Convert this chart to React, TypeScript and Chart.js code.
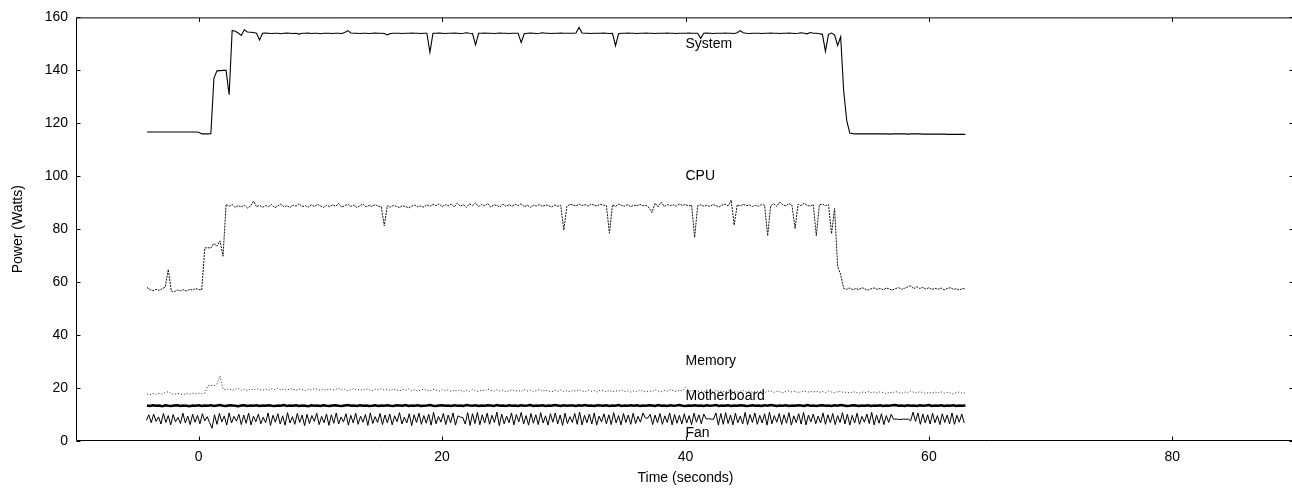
import React, { useEffect, useRef } from 'react';
import { Chart, registerables } from 'chart.js';

Chart.register(...registerables);

const FONT = '"Liberation Sans", Arial, Helvetica, sans-serif';

// Supply-rail power is logged every 0.25 s, starting 4.25 s before the run begins.
const SAMPLE_START_S = -4.25;
const SAMPLE_STEP_S = 0.25;
// The fan sensor is polled faster: every 0.2 s from -4.3 s.
const FAN_START_S = -4.3;
const FAN_STEP_S = 0.2;

const X_TICKS = [0, 20, 40, 60, 80];

const systemWatts = [
  116.7,116.7,116.7,116.7,116.7,116.7,116.7,116.7,116.7,116.7,116.7,116.7,116.7,116.7,116.7,116.7,116.7,116.6,116.0,116.0,
  116.0,116.1,137.0,139.8,139.9,140.0,140.0,130.8,155.1,154.8,154.1,153.2,155.3,154.5,154.4,154.3,154.0,151.5,154.0,154.1,
  154.0,153.9,154.0,154.0,153.8,154.0,154.1,154.0,153.9,154.0,153.7,154.0,154.0,154.1,153.9,154.0,154.0,153.8,154.0,154.0,
  154.0,153.9,154.0,154.0,153.9,154.3,155.0,154.1,154.0,154.0,153.9,154.0,154.0,153.9,154.0,154.1,154.0,154.0,153.9,153.4,
  153.9,154.0,154.0,154.0,153.9,154.0,154.0,154.1,154.0,154.0,153.9,154.0,154.0,146.8,154.0,154.0,154.1,154.0,153.9,154.0,
  154.0,154.1,154.0,153.9,154.0,154.2,154.0,153.9,149.6,154.0,154.0,154.1,154.0,154.0,153.9,154.0,154.1,154.0,154.0,153.9,
  154.0,154.0,154.0,150.5,153.8,154.0,154.1,154.0,153.9,154.0,154.2,154.0,154.0,153.9,154.0,154.0,154.1,154.0,154.0,154.0,
  154.0,154.1,156.2,154.1,154.0,154.0,153.9,154.0,154.0,154.0,154.1,154.0,153.9,154.0,149.3,153.8,154.0,154.0,154.1,154.0,
  154.0,153.9,154.0,154.0,154.1,154.0,154.0,153.9,154.0,154.0,154.0,154.1,154.0,154.0,153.9,154.0,154.0,154.0,154.1,154.0,
  154.0,154.0,152.1,154.0,154.1,154.0,153.9,154.0,154.0,154.0,154.1,154.0,154.0,153.9,154.2,155.0,154.2,154.0,153.9,154.0,
  154.0,154.0,153.9,154.0,154.0,154.1,154.0,154.0,153.9,154.0,154.0,154.1,154.0,153.9,154.0,154.2,154.0,153.8,154.3,154.0,
  154.0,153.8,153.6,147.2,153.6,154.1,153.4,149.4,152.7,132.0,121.0,116.3,116.1,116.0,116.0,116.0,116.0,116.0,116.0,116.0,
  116.0,116.0,116.0,116.0,115.9,116.0,116.0,116.0,116.0,116.0,115.9,116.0,116.0,116.0,116.0,115.9,115.9,115.9,115.9,115.9,
  115.9,115.9,115.9,115.8,115.8,115.8,115.8,115.8,115.8,115.8,
];

const cpuWatts = [
  58.0,57.2,56.8,57.3,56.9,57.5,58.1,64.8,56.6,56.4,57.0,56.7,57.2,56.6,57.3,57.0,57.6,57.2,57.1,72.9,
  73.0,72.9,74.6,73.6,75.6,69.8,89.4,88.6,89.3,88.2,88.9,88.4,89.1,88.0,88.7,90.6,88.5,89.0,88.3,88.9,
  88.6,89.3,88.1,88.8,89.5,88.4,88.9,88.2,89.1,88.7,89.6,88.5,88.9,88.3,89.2,88.6,89.4,88.8,88.2,89.0,
  88.5,89.2,88.7,89.7,88.3,88.9,89.4,88.6,89.1,88.2,88.8,89.5,88.4,89.0,88.6,89.3,88.7,88.5,81.3,88.9,
  88.3,89.0,88.6,88.2,88.9,88.5,88.1,88.7,89.1,88.4,88.8,88.3,89.2,88.6,89.4,88.9,89.6,88.5,89.3,88.8,
  89.5,88.4,89.8,88.7,89.3,88.2,89.6,88.9,89.9,88.5,89.4,88.8,89.7,88.3,89.2,89.0,88.4,89.5,88.6,89.3,
  88.7,89.4,88.9,89.6,88.5,89.1,88.3,89.0,88.8,89.3,88.6,89.2,88.9,88.4,89.1,88.7,89.0,79.7,88.6,89.4,
  89.2,88.8,89.5,88.9,89.3,88.7,89.6,89.0,88.8,89.4,89.1,88.9,78.5,89.2,88.6,89.5,89.0,88.7,89.3,88.5,
  89.1,88.8,89.4,88.9,89.0,88.2,86.3,89.8,88.4,90.2,88.6,89.3,88.9,89.2,88.7,89.5,89.0,89.3,88.8,89.1,
  76.9,88.9,89.2,88.7,89.0,88.6,89.3,88.9,88.4,89.1,89.5,88.8,91.0,81.6,89.2,88.8,89.4,88.9,89.1,88.6,
  89.0,88.7,89.3,89.1,77.5,88.9,89.6,88.6,90.3,89.2,88.8,89.7,89.0,80.2,89.4,88.9,89.8,89.0,88.7,89.3,
  77.5,89.2,89.5,88.9,89.3,78.3,87.8,66.0,62.8,57.6,57.3,57.8,57.1,57.6,57.2,57.9,57.4,57.0,57.5,57.8,
  57.3,57.6,57.1,57.8,57.4,57.0,57.6,57.9,57.3,57.7,58.2,58.6,57.5,58.3,57.6,58.0,57.4,57.9,57.2,57.7,
  57.3,57.8,57.1,57.6,57.9,57.3,57.5,57.0,57.6,57.4,
];

const memoryWatts = [
  17.8,17.5,17.9,17.6,18.0,17.7,18.3,18.6,17.9,17.6,18.0,17.8,17.5,17.9,17.7,18.1,17.8,18.0,17.9,18.1,
  20.9,21.0,20.8,21.5,24.6,19.6,19.4,19.8,19.1,19.5,19.9,19.2,19.6,19.0,19.7,19.3,19.8,19.4,19.1,19.6,
  19.2,19.7,19.4,19.9,19.3,19.6,19.1,19.8,19.5,19.2,19.7,19.4,19.0,19.6,19.3,19.8,19.5,19.1,19.6,19.3,
  19.7,19.2,19.5,19.9,19.3,19.6,19.0,19.4,19.8,19.2,19.5,19.1,19.7,19.4,19.0,19.6,19.3,19.8,19.2,19.5,
  19.1,19.6,19.3,18.9,19.5,19.2,19.7,19.0,19.4,18.8,19.3,19.6,19.1,18.9,19.5,19.2,18.8,19.4,19.0,19.3,
  18.7,19.2,18.9,19.4,18.6,19.1,18.8,19.5,19.0,18.7,19.3,18.9,19.6,19.1,18.8,19.4,18.9,19.2,18.6,19.0,
  19.3,18.8,19.1,18.7,19.4,18.9,19.2,18.6,19.0,19.5,18.8,19.2,18.9,18.5,19.1,18.8,19.3,18.7,19.0,18.6,
  19.1,18.8,19.4,18.9,18.6,19.2,18.8,19.0,18.5,19.3,18.9,18.7,19.1,18.6,19.0,18.8,19.3,18.7,18.9,18.5,
  18.9,18.6,19.2,18.8,18.5,19.0,18.7,19.3,18.9,18.6,19.1,18.8,19.4,19.0,18.7,19.2,18.9,20.3,19.1,18.8,
  19.2,18.7,19.0,18.6,19.3,18.8,18.5,19.1,18.7,18.9,18.4,19.0,18.6,18.9,18.5,18.8,19.1,18.6,18.9,18.4,
  18.8,18.5,18.9,18.3,18.7,19.0,18.4,18.8,18.6,18.2,18.7,18.9,18.5,18.8,18.3,18.6,18.9,18.4,18.7,18.5,
  18.8,18.4,18.7,18.3,18.9,18.5,18.2,18.6,18.8,18.3,18.5,18.1,18.6,18.4,18.0,18.5,18.3,18.7,18.2,18.5,
  18.1,18.6,18.3,17.9,18.4,18.2,18.7,18.3,18.0,18.5,18.2,18.9,18.4,18.1,18.6,18.3,17.9,18.4,18.1,18.5,
  18.2,18.6,18.0,18.4,18.1,17.8,18.3,18.5,18.0,18.2,
];

const motherboardWatts = [
  13.4,13.2,13.5,13.3,13.4,13.1,13.5,13.3,13.2,13.4,13.5,13.2,13.4,13.3,13.1,13.4,13.3,13.5,13.2,13.4,
  13.3,13.5,13.2,13.4,13.6,13.3,13.2,13.5,13.4,13.3,13.1,13.4,13.5,13.2,13.4,13.3,13.5,13.2,13.4,13.3,
  13.5,13.3,13.2,13.4,13.3,13.6,13.2,13.4,13.3,13.5,13.2,13.4,13.3,13.1,13.5,13.3,13.4,13.2,13.5,13.3,
  13.2,13.4,13.5,13.3,13.2,13.4,13.6,13.3,13.4,13.2,13.5,13.3,13.4,13.2,13.3,13.5,13.2,13.4,13.3,13.5,
  13.3,13.2,13.5,13.4,13.3,13.6,13.2,13.4,13.3,13.5,13.2,13.3,13.4,13.6,13.3,13.2,13.4,13.5,13.3,13.4,
  13.2,13.5,13.3,13.4,13.2,13.6,13.4,13.3,13.5,13.2,13.4,13.3,13.5,13.4,13.2,13.6,13.3,13.4,13.2,13.5,
  13.3,13.4,13.2,13.5,13.3,13.4,13.6,13.2,13.4,13.3,13.5,13.2,13.4,13.3,13.6,13.4,13.2,13.5,13.3,13.4,
  13.4,13.2,13.5,13.3,13.6,13.3,13.4,13.2,13.5,13.4,13.3,13.5,13.2,13.4,13.3,13.6,13.2,13.4,13.3,13.5,
  13.3,13.5,13.2,13.4,13.3,13.5,13.4,13.2,13.6,13.3,13.4,13.2,13.5,13.3,13.4,13.6,13.3,13.2,13.4,13.3,
  13.5,13.3,13.4,13.2,13.5,13.3,13.4,13.6,13.2,13.4,13.3,13.5,13.2,13.4,13.3,13.5,13.4,13.2,13.3,13.5,
  13.3,13.4,13.2,13.5,13.3,13.6,13.4,13.2,13.4,13.3,13.5,13.2,13.4,13.3,13.5,13.4,13.2,13.6,13.3,13.4,
  13.2,13.4,13.5,13.3,13.4,13.2,13.5,13.3,13.6,13.4,13.2,13.3,13.5,13.4,13.2,13.4,13.3,13.5,13.2,13.4,
  13.3,13.5,13.2,13.4,13.3,13.5,13.6,13.3,13.4,13.2,13.5,13.3,13.4,13.2,13.5,13.3,13.4,13.6,13.2,13.4,
  13.3,13.5,13.2,13.4,13.3,13.5,13.2,13.4,13.3,13.4,
];

const fanWatts = [
  7.8,9.9,6.9,10.2,7.4,9.1,6.4,10.4,7.0,9.6,6.1,10.0,7.3,8.9,6.6,10.5,6.8,9.4,6.2,10.1,
  7.1,9.7,6.5,10.3,7.6,9.2,6.9,4.8,9.9,6.3,10.4,7.2,9.5,6.0,10.6,6.8,9.3,7.5,10.1,6.2,
  9.8,6.7,10.5,6.1,9.4,7.3,10.2,6.5,9.0,6.9,10.6,5.9,9.7,7.1,10.3,6.4,9.5,6.0,10.7,6.8,
  9.2,6.3,10.4,7.0,9.8,5.8,10.1,6.6,9.6,7.4,10.5,6.2,9.3,6.9,10.2,5.9,9.9,6.7,10.6,6.4,
  9.1,7.2,10.3,6.0,9.7,6.8,10.5,6.3,9.4,7.1,10.0,5.9,10.6,6.6,9.2,7.0,10.4,6.2,9.8,6.9,
  10.2,6.1,9.5,7.3,10.7,6.4,9.0,6.8,10.3,5.8,9.9,7.0,10.5,6.3,9.6,6.7,10.1,6.0,10.8,6.5,
  9.3,7.1,10.4,6.2,9.8,6.9,10.6,6.0,9.5,9.0,8.9,6.4,10.7,5.9,10.3,6.6,10.8,6.1,9.9,6.8,
  10.5,6.3,9.7,7.0,10.9,5.8,10.2,6.5,9.4,6.9,10.6,6.1,10.0,7.2,10.8,6.4,9.6,6.0,10.4,6.7,
  9.9,6.2,10.7,6.8,9.5,6.0,10.3,7.1,10.6,6.4,9.8,5.9,10.5,6.6,9.2,7.0,10.4,6.3,10.9,6.1,
  9.7,6.9,10.2,6.4,10.6,6.0,9.4,7.2,10.3,6.5,9.9,6.2,10.7,6.8,9.6,6.1,10.4,7.0,9.8,6.3,
  10.5,6.6,9.3,7.1,10.6,8.7,8.6,10.1,6.2,9.8,6.9,10.4,6.3,9.5,7.0,10.6,6.1,10.0,6.7,9.7,
  6.4,10.3,6.8,9.6,6.2,10.5,7.1,9.9,6.5,10.2,8.3,8.4,8.3,8.2,10.6,6.0,10.4,6.3,10.7,6.6,
  9.8,6.1,10.5,6.9,9.4,6.4,10.8,6.2,10.0,7.0,10.6,6.3,9.7,6.8,10.3,6.0,10.9,6.5,9.6,7.1,
  10.4,6.2,9.9,6.7,10.7,6.0,9.5,6.9,10.3,6.4,10.8,6.1,9.8,7.2,10.2,6.5,9.4,6.8,10.6,6.3,
  9.9,6.9,10.4,6.2,9.6,7.0,10.7,6.4,10.1,6.0,9.7,6.8,10.5,6.3,9.3,7.1,10.2,6.6,10.8,6.1,
  9.8,6.7,10.3,6.2,9.6,7.0,10.1,8.2,8.3,8.2,8.1,8.3,8.2,8.3,7.6,10.9,7.4,10.6,6.3,10.2,
  6.8,9.9,6.4,10.5,6.9,9.6,6.2,10.3,7.0,9.8,6.5,10.6,6.3,9.7,7.1,10.2,6.8,
];

// In-plot line titles, anchored at (seconds, watts), left-aligned.
const seriesLabels = [
  { text: 'System', t: 40, w: 150 },
  { text: 'CPU', t: 40, w: 100 },
  { text: 'Memory', t: 40, w: 30 },
  { text: 'Motherboard', t: 40, w: 17 },
  { text: 'Fan', t: 40, w: 3 },
];

const toPoints = (vals: number[], start: number, step: number) =>
  vals.map((w, i) => ({ x: start + i * step, y: w }));

// Plot frame with short inward tick marks on all four sides.
const framePlugin = {
  id: 'frame',
  afterDatasetsDraw(chart: any) {
    const { ctx, chartArea, scales } = chart;
    const { left, top, right, bottom } = chartArea;
    const L = left - 0.5;
    const T = top + 0.5;
    const R = right - 0.5;
    const B = bottom - 0.5;
    const tick = 4;
    ctx.save();
    ctx.strokeStyle = '#000';
    ctx.lineWidth = 1;
    ctx.beginPath();
    ctx.moveTo(L, T);
    ctx.lineTo(R, T);
    ctx.lineTo(R, B);
    ctx.lineTo(L, B);
    ctx.closePath();
    for (const v of X_TICKS) {
      const px = Math.round(scales.x.getPixelForValue(v)) + 0.5;
      ctx.moveTo(px, B);
      ctx.lineTo(px, B - tick);
      ctx.moveTo(px, T);
      ctx.lineTo(px, T + tick);
    }
    for (const t of scales.y.ticks) {
      const py = Math.round(scales.y.getPixelForValue(t.value)) + 0.5;
      ctx.moveTo(L, py);
      ctx.lineTo(L + tick, py);
      ctx.moveTo(R, py);
      ctx.lineTo(R - tick, py);
    }
    ctx.stroke();
    ctx.restore();
  },
};

const labelPlugin = {
  id: 'seriesLabels',
  afterDatasetsDraw(chart: any) {
    const { ctx, scales } = chart;
    ctx.save();
    ctx.fillStyle = '#000';
    ctx.font = `14px ${FONT}`;
    ctx.textAlign = 'left';
    ctx.textBaseline = 'middle';
    for (const l of seriesLabels) {
      ctx.fillText(l.text, scales.x.getPixelForValue(l.t), scales.y.getPixelForValue(l.w));
    }
    ctx.restore();
  },
};

export default function App() {
  const canvasRef = useRef<HTMLCanvasElement>(null);

  useEffect(() => {
    const canvas = canvasRef.current;
    if (!canvas) return;
    const tickFont = { family: FONT, size: 14 };
    const chart = new Chart(canvas, {
      type: 'line',
      data: {
        datasets: [
          {
            label: 'System',
            data: toPoints(systemWatts, SAMPLE_START_S, SAMPLE_STEP_S),
            borderColor: '#000',
            borderWidth: 1.1,
          },
          {
            label: 'CPU',
            data: toPoints(cpuWatts, SAMPLE_START_S, SAMPLE_STEP_S),
            borderColor: '#111',
            borderWidth: 1,
            borderDash: [2, 1],
          },
          {
            label: 'Memory',
            data: toPoints(memoryWatts, SAMPLE_START_S, SAMPLE_STEP_S),
            borderColor: '#222',
            borderWidth: 1,
            borderDash: [1, 2],
          },
          {
            label: 'Motherboard',
            data: toPoints(motherboardWatts, SAMPLE_START_S, SAMPLE_STEP_S),
            borderColor: '#000',
            borderWidth: 2.5,
          },
          {
            label: 'Fan',
            data: toPoints(fanWatts, FAN_START_S, FAN_STEP_S),
            borderColor: '#000',
            borderWidth: 1,
          },
        ],
      },
      options: {
        animation: false,
        responsive: false,
        devicePixelRatio: 1,
        events: [],
        layout: { padding: { top: 12, right: 6, bottom: 0, left: 0 } },
        elements: {
          point: { radius: 0 },
          line: { tension: 0, borderCapStyle: 'butt', fill: false },
        },
        plugins: {
          legend: { display: false },
          tooltip: { enabled: false },
        },
        scales: {
          x: {
            type: 'linear',
            min: -10,
            max: 90,
            afterBuildTicks: (s: any) => {
              s.ticks = X_TICKS.map((v) => ({ value: v }));
            },
            afterFit: (s: any) => {
              s.height = 47;
            },
            grid: { display: false, drawTicks: false },
            border: { display: false },
            ticks: {
              color: '#000',
              font: tickFont,
              padding: 8,
              maxRotation: 0,
              autoSkip: false,
            },
            title: {
              display: true,
              text: 'Time (seconds)',
              color: '#000',
              font: tickFont,
              padding: { top: 0, bottom: 1 },
            },
          },
          y: {
            type: 'linear',
            min: 0,
            max: 160,
            afterFit: (s: any) => {
              s.width = 77;
            },
            grid: { display: false, drawTicks: false },
            border: { display: false },
            ticks: {
              stepSize: 20,
              color: '#000',
              font: tickFont,
              padding: 9,
            },
            title: {
              display: true,
              text: 'Power (Watts)',
              color: '#000',
              font: tickFont,
              padding: { top: 10, bottom: 0 },
            },
          },
        },
      },
      plugins: [framePlugin, labelPlugin],
    } as any);
    return () => chart.destroy();
  }, []);

  return (
    <div
      style={{
        position: 'fixed',
        left: 0,
        top: 0,
        width: 1292,
        height: 488,
        overflow: 'hidden',
        background: '#fff',
      }}
    >
      <canvas
        ref={canvasRef}
        width={1300}
        height={488}
        style={{ display: 'block', width: 1300, height: 488 }}
      />
    </div>
  );
}
